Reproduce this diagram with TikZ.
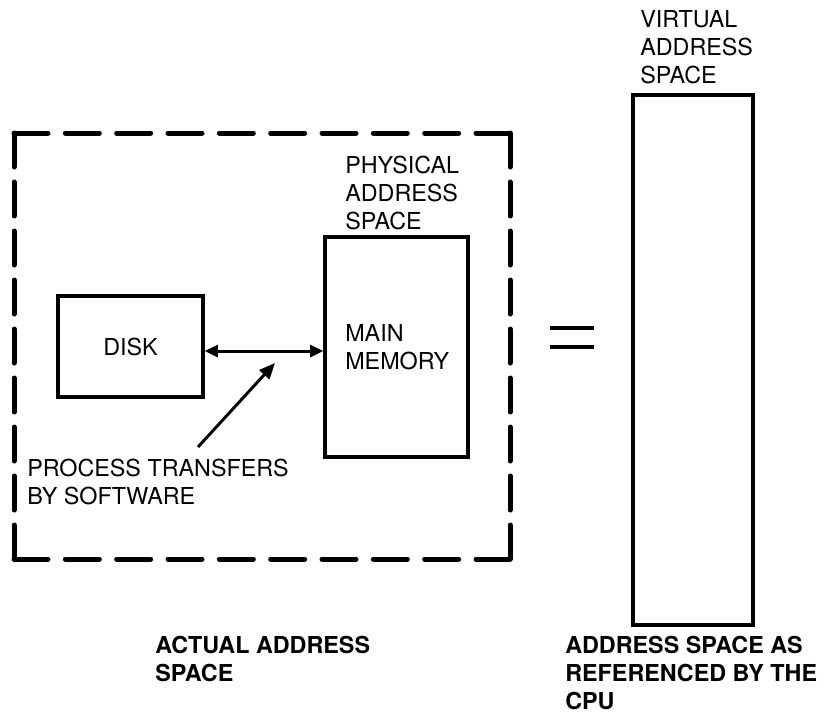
\documentclass[tikz,border=0pt]{standalone}
\usepackage{fontspec}
\setmainfont{TeX Gyre Heros}
\usetikzlibrary{arrows.meta}

\begin{document}
\begin{tikzpicture}[x=0.75pt,y=-0.75pt,
	box/.style={draw, line width=2.4pt, inner sep=0pt},
	frame/.style={line width=3.75pt, line cap=round},
	txt/.style={anchor=north west, inner sep=0pt, align=left},
	bold/.style={font=\fontsize{17.5}{21}\selectfont\bfseries},
	link/.style={line width=2.2pt, {Triangle[length=10pt,width=9pt]}-{Triangle[length=10pt,width=9pt]}},
	hint/.style={line width=2.2pt, -{Triangle[length=12pt,width=10pt]}}]
	\tikzstyle{every node}=[font=\fontsize{17.5}{21}\selectfont]
	\useasboundingbox (0,0) rectangle (833,714);
	
	\draw [frame, dash pattern=on 25.5pt off 13pt] (14,133) -- (510,133) (14,559) -- (510,559);
	\draw [frame, dash pattern=on 25.5pt off 11.25pt] (14,133) -- (14,559) (510,133) -- (510,559);
	
	\node [box, minimum width=108.75pt, minimum height=75.75pt] (disk) at (130.5,346.5) {DISK};
	\node [box, minimum width=107.25pt, minimum height=165pt] (mem) at (396.5,347) {};
	\node [box, minimum width=90pt, minimum height=397.5pt] (virt) at (693,360) {};
	
	\node [txt] (physlbl) at (345,156) {PHYSICAL\\ADDRESS\\SPACE};
	\node [txt] (memlbl) at (345,324) {MAIN\\MEMORY};
	\node [txt] (proclbl) at (27,459) {PROCESS TRANSFERS\\BY SOFTWARE};
	\node [txt] (virtlbl) at (640,10) {VIRTUAL\\ADDRESS\\SPACE};
	\node [txt, bold] (actlbl) at (155,636) {ACTUAL ADDRESS\\SPACE};
	\node [txt, bold] (cpulbl) at (565,636) {ADDRESS SPACE AS\\REFERENCED BY THE\\CPU};
	
	\coordinate (dend) at ([yshift=-3.4pt]disk.east);
	\draw [link] (dend) -- (dend -| mem.west);
	
	\coordinate (tail) at (198,447);
	\coordinate (aim) at (275,363);
	\draw [hint] (tail) -- (aim);
	
	\draw [line width=3pt] (550,328) -- (594,328) (550,347) -- (594,347);
\end{tikzpicture}
\end{document}
